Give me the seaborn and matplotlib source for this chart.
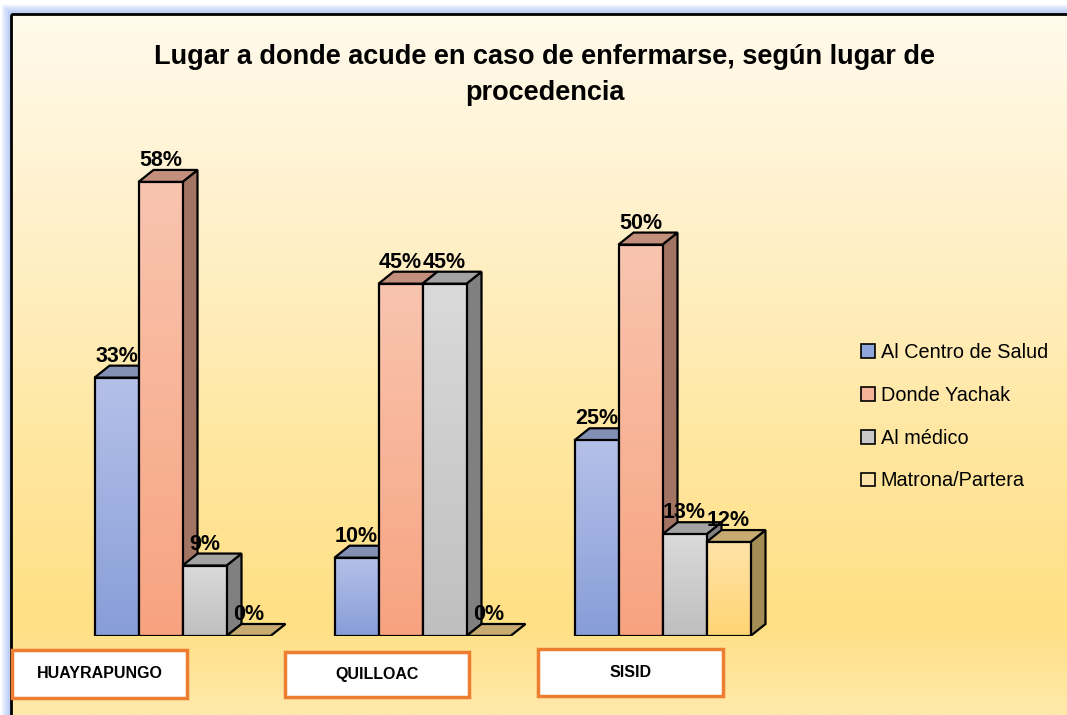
import numpy as np
import pandas as pd
import matplotlib
matplotlib.use("Agg")
import matplotlib.pyplot as plt
from matplotlib.patches import Rectangle, Polygon, Patch
from matplotlib.colors import to_rgb
import seaborn as sns

# data
lugares = ["HUAYRAPUNGO", "QUILLOAC", "SISID"]
opciones = ["Al Centro de Salud", "Donde Yachak", "Al médico", "Matrona/Partera"]
centro_salud = [33, 10, 25]
yachak = [58, 45, 50]
medico = [9, 45, 13]
matrona = [0, 0, 12]

df = pd.DataFrame({
    "lugar": lugares * 4,
    "opcion": [o for o in opciones for _ in lugares],
    "pct": centro_salud + yachak + medico + matrona,
})

# colours per option: front gradient top/bottom, side face, top face
front_top = ["#B5C0E8", "#F9C4AF", "#DADADA", "#FFE3A9"]
front_bot = ["#889ED9", "#F7A380", "#BFBFBF", "#FFD473"]
side_col = ["#5F6F9C", "#A27464", "#808080", "#A48C55"]
top_col = ["#8390B4", "#C38F7D", "#A3A3A3", "#C8AB72"]
legend_col = ["#8EA5DB", "#F7B29A", "#C8C8C8", "#FFE3A8"]

sns.set_theme(style="white")
plt.rcParams["font.family"] = ["Liberation Sans", "DejaVu Sans"]
plt.rcParams["text.color"] = "black"

W, H = 1067, 715
fig = plt.figure(figsize=(W / 100, H / 100), dpi=100)
fig.patch.set_facecolor("white")

# background panel in pixel coordinates
bg = fig.add_axes([0, 0, 1, 1])
bg.set_xlim(0, W)
bg.set_ylim(H, 0)
bg.set_axis_off()
for off in [9, 7, 5, 3]:
    bg.add_patch(Rectangle((11 - off, 14 - off), 1200, 1000, facecolor="#9DB8F2",
                           alpha=0.22, edgecolor="none"))
stops = [(0.0, "#FFFAEC"), (0.35, "#FFEFC4"), (0.6, "#FFE7A2"), (0.87, "#FFE084"), (1.0, "#FFE9AC")]
ys = np.linspace(0, 1, 300)
grad = np.array([[np.interp(y, [s[0] for s in stops], [to_rgb(s[1])[c] for s in stops]) for c in range(3)]
                 for y in ys])[:, None, :]
bg.imshow(grad, extent=[11, W, H, 14], aspect="auto", origin="upper", zorder=1)
bg.add_patch(Rectangle((11, 14), 1200, 1000, fill=False, edgecolor="black", lw=2, zorder=2))
bg.set_xlim(0, W)
bg.set_ylim(H, 0)

# category label boxes
boxes = [(12, 650, 175, 48), (285, 652, 184, 45), (538, 649, 185, 47)]
for (bx, by, bw, bh), name in zip(boxes, lugares):
    bg.add_patch(Rectangle((bx, by), bw, bh, facecolor="white", edgecolor="#ED7D31", lw=2.5, zorder=3))
    bg.text(bx + bw / 2, by + bh / 2, name, ha="center", va="center", fontsize=11.5,
            fontweight="bold", color="black", zorder=4)

# main chart axes
ax_l, ax_r, ax_b, ax_t = 20, 830, 636, 88
ax = fig.add_axes([ax_l / W, (H - ax_b) / H, (ax_r - ax_l) / W, (ax_b - ax_t) / H])
ax.patch.set_visible(False)
sns.barplot(data=df, x="lugar", y="pct", hue="opcion", order=lugares, hue_order=opciones,
            width=176 / 240, saturation=1, palette=legend_col, legend=False, ax=ax)
x0_px = 182.5
xlim = ((ax_l - x0_px) / 240, (ax_r - x0_px) / 240)
ylim = (0, 70)
ax.set_xlim(*xlim)
ax.set_ylim(*ylim)
ax.set_axis_off()

p0 = ax.transData.transform((0, 0))
p1 = ax.transData.transform((1, 1))
dx = 15 / (p1[0] - p0[0])
dy = 12 / (p1[1] - p0[1])
lab_off = 16 / (p1[1] - p0[1])

bars = []
for i, patch in enumerate(ax.patches):
    hue_idx = i // len(lugares)
    bars.append((patch.get_x(), hue_idx, patch))
bars.sort(key=lambda b: b[0])

z = 2.0
for x0, k, patch in bars:
    w = patch.get_width()
    h = patch.get_height()
    x1 = x0 + w
    if h > 0:
        ax.add_patch(Polygon([(x1, 0), (x1 + dx, dy), (x1 + dx, h + dy), (x1, h)], closed=True,
                             facecolor=side_col[k], edgecolor="black", lw=1.6, zorder=z))
    ax.add_patch(Polygon([(x0, h), (x1, h), (x1 + dx, h + dy), (x0 + dx, h + dy)], closed=True,
                         facecolor=top_col[k], edgecolor="black", lw=1.6, zorder=z + 0.01))
    if h > 0:
        g = np.array([np.linspace(to_rgb(front_top[k])[c], to_rgb(front_bot[k])[c], 100)
                      for c in range(3)]).T[:, None, :]
        im = ax.imshow(g, extent=[x0, x1, 0, h], aspect="auto", origin="upper", zorder=z + 0.02)
        im.set_clip_path(patch)
    patch.set_facecolor("none")
    patch.set_edgecolor("black")
    patch.set_linewidth(1.6)
    patch.set_zorder(z + 0.03)
    ax.text(x0 + w / 2, h + lab_off, f"{h:.0f}%", ha="center", va="baseline", fontsize=15.5,
            fontweight="bold", color="black", zorder=20)
    z += 0.1

ax.set_xlim(*xlim)
ax.set_ylim(*ylim)

fig.text(545 / W, 1 - 75 / H, "Lugar a donde acude en caso de enfermarse, según lugar de\nprocedencia",
         ha="center", va="center", multialignment="center", fontsize=19.5, fontweight="bold",
         linespacing=1.5, color="black")

handles = [Patch(facecolor=c, edgecolor="black", lw=1.2) for c in legend_col]
fig.legend(handles, opciones, loc="upper left", bbox_to_anchor=(853 / W, 1 - 335 / H), frameon=False,
           fontsize=14.3, handlelength=0.7, handleheight=0.7, handletextpad=0.3, labelspacing=1.2,
           borderaxespad=0, labelcolor="black")

fig.savefig("out.png", dpi=100)
